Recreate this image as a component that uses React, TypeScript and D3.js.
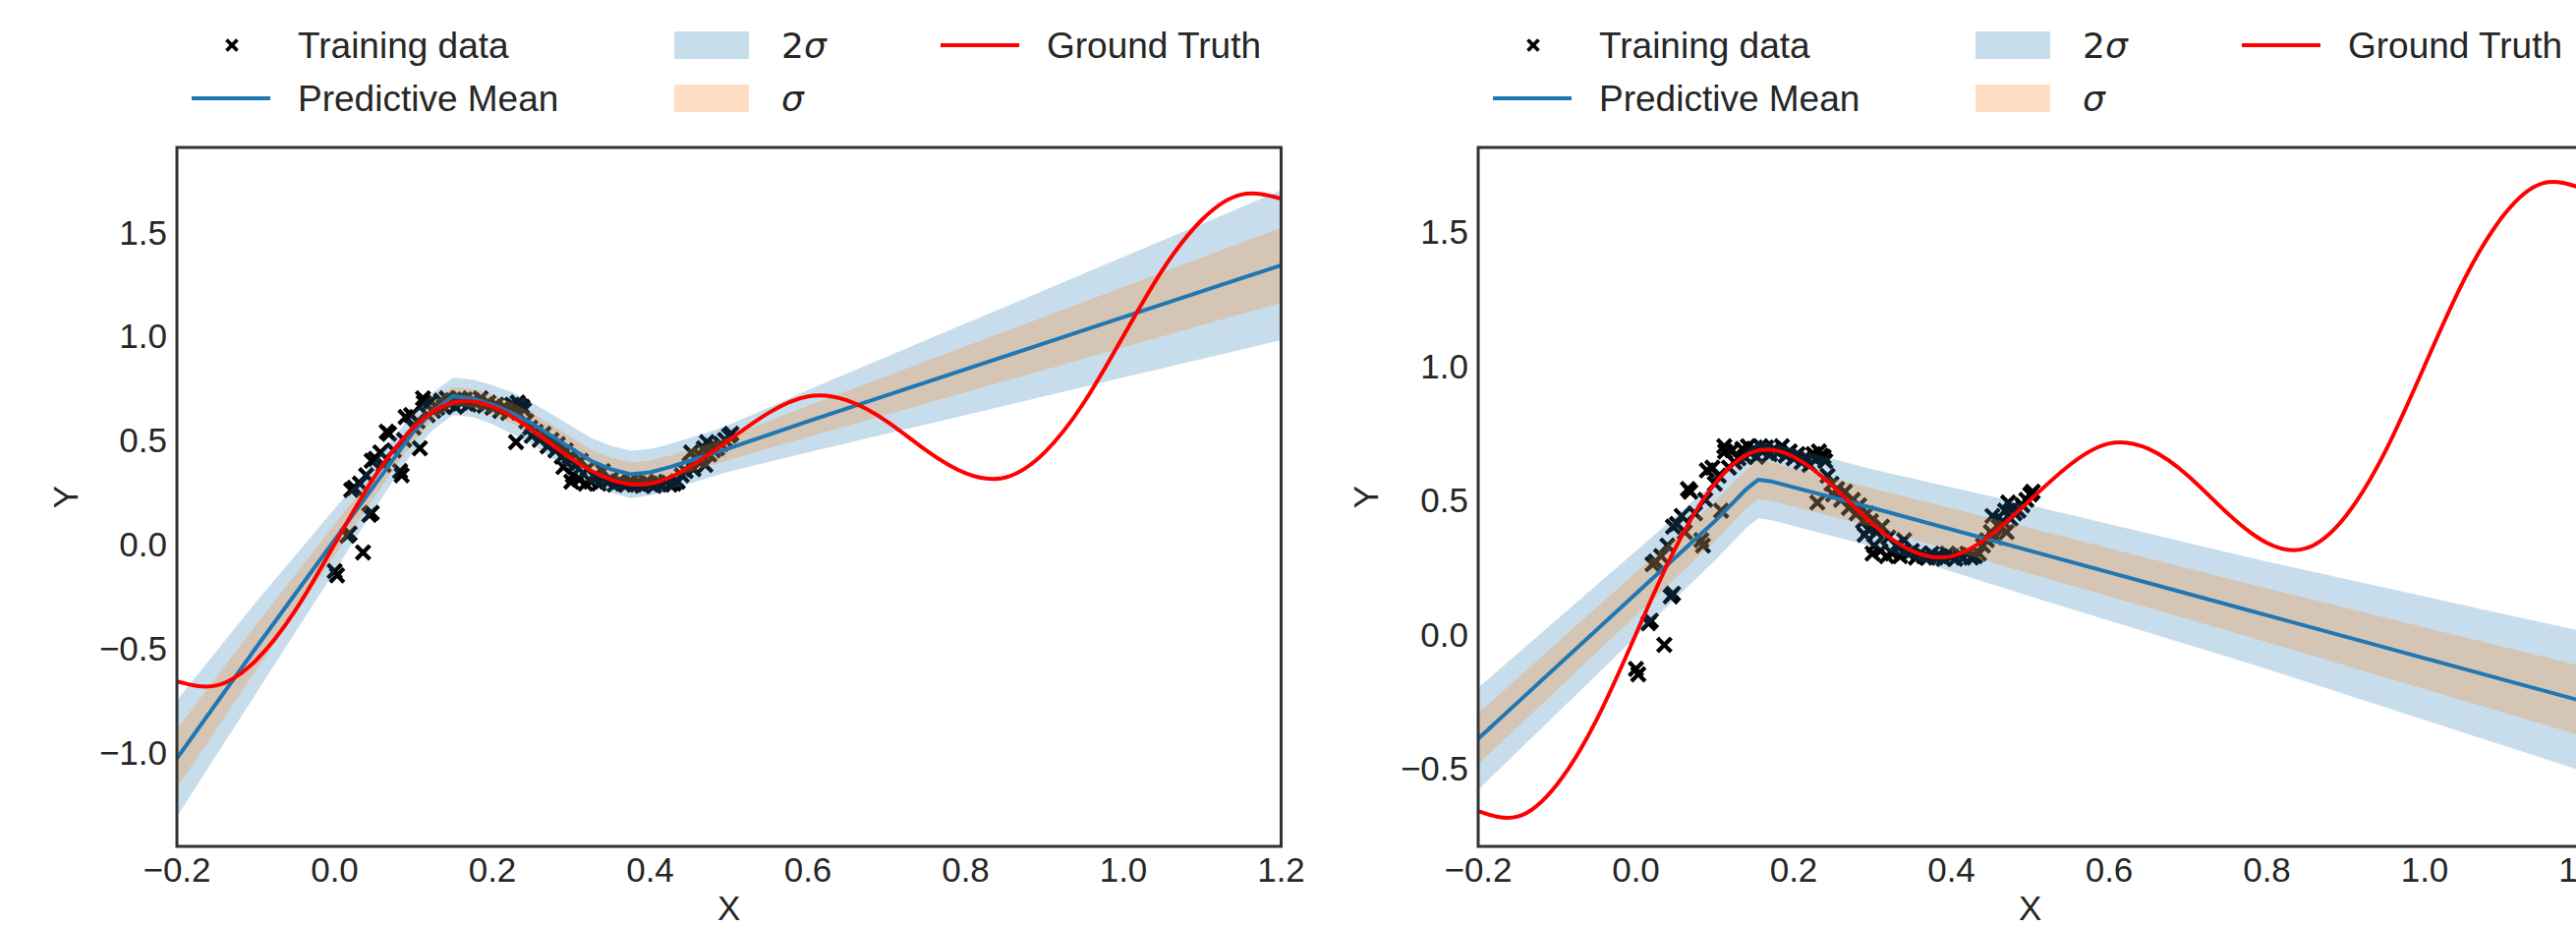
import React, { useEffect, useRef } from "react";
import * as d3 from "d3";

// ground truth curve, read every 0.05 along x
const truthX = [-0.2, -0.15, -0.1, -0.05, 0.0, 0.05, 0.1, 0.15, 0.2, 0.25, 0.3, 0.35, 0.4, 0.45, 0.5,
  0.55, 0.6, 0.65, 0.7, 0.75, 0.8, 0.85, 0.9, 0.95, 1.0, 1.05, 1.1, 1.15, 1.2];
const truthY = [-0.66, -0.68, -0.56, -0.32, 0.0, 0.32, 0.56, 0.68, 0.66, 0.55, 0.41, 0.31, 0.29, 0.37, 0.5,
  0.63, 0.71, 0.69, 0.59, 0.45, 0.34, 0.32, 0.44, 0.68, 1.0, 1.32, 1.56, 1.68, 1.66];

// training points (same in both panels)
const trainX = [0.000, 0.003, 0.016, 0.019, 0.036, 0.044, 0.047, 0.021, 0.025, 0.032, 0.040, 0.047, 0.052, 0.058,
  0.066, 0.069, 0.083, 0.085, 0.108, 0.062, 0.075, 0.090, 0.097, 0.088, 0.100, 0.105,
  0.112, 0.113, 0.118, 0.122, 0.125, 0.130, 0.135, 0.138, 0.142, 0.145, 0.150, 0.153, 0.158, 0.160, 0.165,
  0.170, 0.175, 0.180, 0.185, 0.190, 0.195, 0.200,
  0.205, 0.210, 0.215, 0.220, 0.225, 0.228, 0.230, 0.232, 0.235, 0.238, 0.240, 0.243, 0.248, 0.250, 0.255,
  0.260, 0.265, 0.270, 0.275, 0.280, 0.283, 0.288, 0.290, 0.293, 0.295, 0.298, 0.300, 0.302,
  0.305, 0.310, 0.312, 0.318, 0.320, 0.325, 0.330, 0.335, 0.340, 0.345, 0.350, 0.355, 0.360, 0.365, 0.370,
  0.375, 0.380, 0.385, 0.390, 0.395, 0.400, 0.405, 0.410, 0.415, 0.420, 0.425, 0.430, 0.435, 0.440, 0.445,
  0.450, 0.452, 0.455, 0.460, 0.465, 0.468, 0.470, 0.472, 0.475, 0.478, 0.480, 0.485, 0.490, 0.495, 0.500, 0.503];
const trainY = [-0.13, -0.15, 0.04, 0.05, -0.04, 0.14, 0.15, 0.26, 0.27, 0.29, 0.33, 0.40, 0.41, 0.44,
  0.54, 0.53, 0.35, 0.33, 0.46, 0.38, 0.45, 0.61, 0.62, 0.50, 0.56, 0.59,
  0.70, 0.68, 0.62, 0.685, 0.64, 0.655, 0.69, 0.66, 0.70, 0.675, 0.69, 0.66, 0.70, 0.68, 0.695,
  0.67, 0.69, 0.675, 0.70, 0.665, 0.68, 0.655,
  0.67, 0.64, 0.66, 0.63, 0.67, 0.65, 0.49, 0.68, 0.665, 0.66, 0.645, 0.59, 0.56, 0.52, 0.54,
  0.50, 0.53, 0.47, 0.50, 0.45, 0.48, 0.42, 0.37, 0.45, 0.39, 0.42, 0.30, 0.33,
  0.38, 0.31, 0.40, 0.29, 0.36, 0.30, 0.33, 0.29, 0.35, 0.30, 0.31, 0.285, 0.30, 0.29, 0.285,
  0.30, 0.285, 0.29, 0.28, 0.30, 0.29, 0.28, 0.295, 0.285, 0.30, 0.285, 0.29, 0.30, 0.33, 0.35,
  0.38, 0.44, 0.36, 0.40, 0.42, 0.46, 0.38, 0.49, 0.43, 0.47, 0.45, 0.46, 0.48, 0.50, 0.52, 0.53];

// left panel: predictive mean and std
const leftGridX = [-0.2, -0.1, 0.0, 0.025, 0.05, 0.075, 0.1, 0.125, 0.15, 0.175, 0.2, 0.225, 0.25, 0.275,
  0.3, 0.325, 0.35, 0.375, 0.4, 0.425, 0.45, 0.475, 0.5, 0.6, 0.8, 1.0, 1.2];
const leftMean = [-1.03, -0.50, 0.02, 0.15, 0.28, 0.41, 0.54, 0.64, 0.71, 0.70, 0.67, 0.63, 0.58, 0.52,
  0.46, 0.40, 0.36, 0.335, 0.345, 0.37, 0.40, 0.43, 0.46, 0.59, 0.84, 1.09, 1.34];
const leftStd = [0.14, 0.11, 0.075, 0.065, 0.058, 0.05, 0.047, 0.045, 0.045, 0.045, 0.047, 0.05, 0.05, 0.052,
  0.054, 0.055, 0.056, 0.057, 0.056, 0.055, 0.055, 0.055, 0.056, 0.075, 0.11, 0.145, 0.18];

// right panel: predictive mean and std
const rightGridX = [-0.2, 0.0, 0.1, 0.14, 0.155, 0.17, 0.3, 0.5, 0.8, 1.0, 1.2];
const rightMean = [-0.39, 0.15, 0.42, 0.54, 0.575, 0.57, 0.47, 0.31, 0.07, -0.09, -0.25];
const rightStd = [0.095, 0.08, 0.073, 0.072, 0.072, 0.072, 0.072, 0.085, 0.10, 0.115, 0.13];

const xTicks = [-0.2, 0.0, 0.2, 0.4, 0.6, 0.8, 1.0, 1.2];
const leftYTicks = [-1.0, -0.5, 0.0, 0.5, 1.0, 1.5];
const rightYTicks = [-0.5, 0.0, 0.5, 1.0, 1.5];

const W = 2621, H = 942;
const TOP = 150, BOTTOM = 861, PLOT_W = 1123.5;
const FONT = "'Liberation Sans', Arial, sans-serif";
const INK = "#262626";
const BLUE = "#1f77b4", ORANGE = "#ff7f0e", RED = "#ff0000";
const CROSS = "M-7,-7L7,7M-7,7L7,-7";

function drawPanel(svg, p) {
  const x = d3.scaleLinear().domain([-0.2, 1.2]).range([p.left, p.left + PLOT_W]);
  const y = d3.scaleLinear().domain(p.yDomain).range([BOTTOM, TOP]);
  const clipId = "clip-" + p.id;

  svg.append("defs").append("clipPath").attr("id", clipId)
    .append("rect")
    .attr("x", p.left).attr("y", TOP)
    .attr("width", PLOT_W).attr("height", BOTTOM - TOP);

  const plot = svg.append("g").attr("clip-path", "url(#" + clipId + ")");

  // scatter first, the bands are laid on top of it
  plot.selectAll(".pt")
    .data(d3.range(trainX.length))
    .enter().append("path")
    .attr("class", "pt")
    .attr("transform", i => "translate(" + x(trainX[i]) + "," + y(trainY[i]) + ")")
    .attr("d", CROSS)
    .attr("fill", "none")
    .attr("stroke", "#000")
    .attr("stroke-width", 4.2);

  const rows = p.gridX.map((gx, i) => ({ x: gx, m: p.mean[i], s: p.std[i] }));
  const band = k => d3.area()
    .x(d => x(d.x))
    .y0(d => y(d.m - k * d.s))
    .y1(d => y(d.m + k * d.s));

  plot.append("path").datum(rows).attr("d", band(2))
    .attr("fill", BLUE).attr("fill-opacity", 0.25);
  plot.append("path").datum(rows).attr("d", band(1))
    .attr("fill", ORANGE).attr("fill-opacity", 0.25);

  plot.append("path").datum(rows)
    .attr("d", d3.line().x(d => x(d.x)).y(d => y(d.m)))
    .attr("fill", "none").attr("stroke", BLUE).attr("stroke-width", 4);

  const truth = truthX.map((tx, i) => [tx, truthY[i]]);
  plot.append("path").datum(truth)
    .attr("d", d3.line().x(d => x(d[0])).y(d => y(d[1])).curve(d3.curveNatural))
    .attr("fill", "none").attr("stroke", RED).attr("stroke-width", 4);

  // frame
  svg.append("rect")
    .attr("x", p.left).attr("y", TOP)
    .attr("width", PLOT_W).attr("height", BOTTOM - TOP)
    .attr("fill", "none").attr("stroke", "#333").attr("stroke-width", 3);

  const fmt = d3.format(".1f");
  const ax = svg.append("g").attr("font-family", FONT).attr("font-size", 35).attr("fill", INK);

  ax.selectAll(".xt").data(xTicks).enter().append("text")
    .attr("x", d => x(d)).attr("y", 897)
    .attr("text-anchor", "middle")
    .text(d => fmt(d));

  ax.selectAll(".yt").data(p.yTicks).enter().append("text")
    .attr("x", p.left - 10).attr("y", d => y(d))
    .attr("dy", "0.36em")
    .attr("text-anchor", "end")
    .text(d => fmt(d));

  ax.append("text")
    .attr("x", p.left + PLOT_W / 2).attr("y", 936)
    .attr("text-anchor", "middle")
    .text("X");

  ax.append("text")
    .attr("transform", "translate(" + (p.left - p.yLabelGap) + "," + (TOP + BOTTOM) / 2 + ") rotate(-90)")
    .attr("text-anchor", "middle")
    .text("Y");

  // legend, three columns
  const lg = svg.append("g").attr("font-family", FONT).attr("font-size", 37).attr("fill", INK);
  const L = p.left;
  const r1 = 46, r2 = 100;

  lg.append("path")
    .attr("transform", "translate(" + (L + 56) + "," + r1 + ")")
    .attr("d", "M-5.5,-5.5L5.5,5.5M-5.5,5.5L5.5,-5.5")
    .attr("fill", "none").attr("stroke", "#000").attr("stroke-width", 3.8);
  lg.append("text").attr("x", L + 123).attr("y", r1 + 13).text("Training data");

  lg.append("line")
    .attr("x1", L + 15).attr("x2", L + 95).attr("y1", r2).attr("y2", r2)
    .attr("stroke", BLUE).attr("stroke-width", 4);
  lg.append("text").attr("x", L + 123).attr("y", r2 + 13).text("Predictive Mean");

  lg.append("rect")
    .attr("x", L + 506).attr("y", r1 - 14).attr("width", 76).attr("height", 28)
    .attr("fill", BLUE).attr("fill-opacity", 0.25);
  const t2 = lg.append("text").attr("x", L + 615).attr("y", r1 + 13)
    .attr("font-family", "'DejaVu Sans', sans-serif").attr("font-size", 36);
  t2.append("tspan").text("2");
  t2.append("tspan").attr("font-style", "italic").text("σ");

  lg.append("rect")
    .attr("x", L + 506).attr("y", r2 - 14).attr("width", 76).attr("height", 28)
    .attr("fill", ORANGE).attr("fill-opacity", 0.25);
  lg.append("text").attr("x", L + 615).attr("y", r2 + 13)
    .attr("font-family", "'DejaVu Sans', sans-serif").attr("font-size", 36)
    .attr("font-style", "italic").text("σ");

  lg.append("line")
    .attr("x1", L + 777).attr("x2", L + 857).attr("y1", r1).attr("y2", r1)
    .attr("stroke", RED).attr("stroke-width", 4);
  lg.append("text").attr("x", L + 885).attr("y", r1 + 13).text("Ground Truth");
}

export default function App() {
  const ref = useRef(null);

  useEffect(() => {
    const svg = d3.select(ref.current);
    svg.selectAll("*").remove();

    drawPanel(svg, {
      id: "left", left: 180, yDomain: [-1.453, 1.906], yTicks: leftYTicks,
      gridX: leftGridX, mean: leftMean, std: leftStd, yLabelGap: 101
    });
    drawPanel(svg, {
      id: "right", left: 1504, yDomain: [-0.791, 1.813], yTicks: rightYTicks,
      gridX: rightGridX, mean: rightMean, std: rightStd, yLabelGap: 102
    });
  }, []);

  return (
    <svg ref={ref} width={W} height={H}
      style={{ position: "absolute", left: 0, top: 0, display: "block", background: "#fff" }} />
  );
}
